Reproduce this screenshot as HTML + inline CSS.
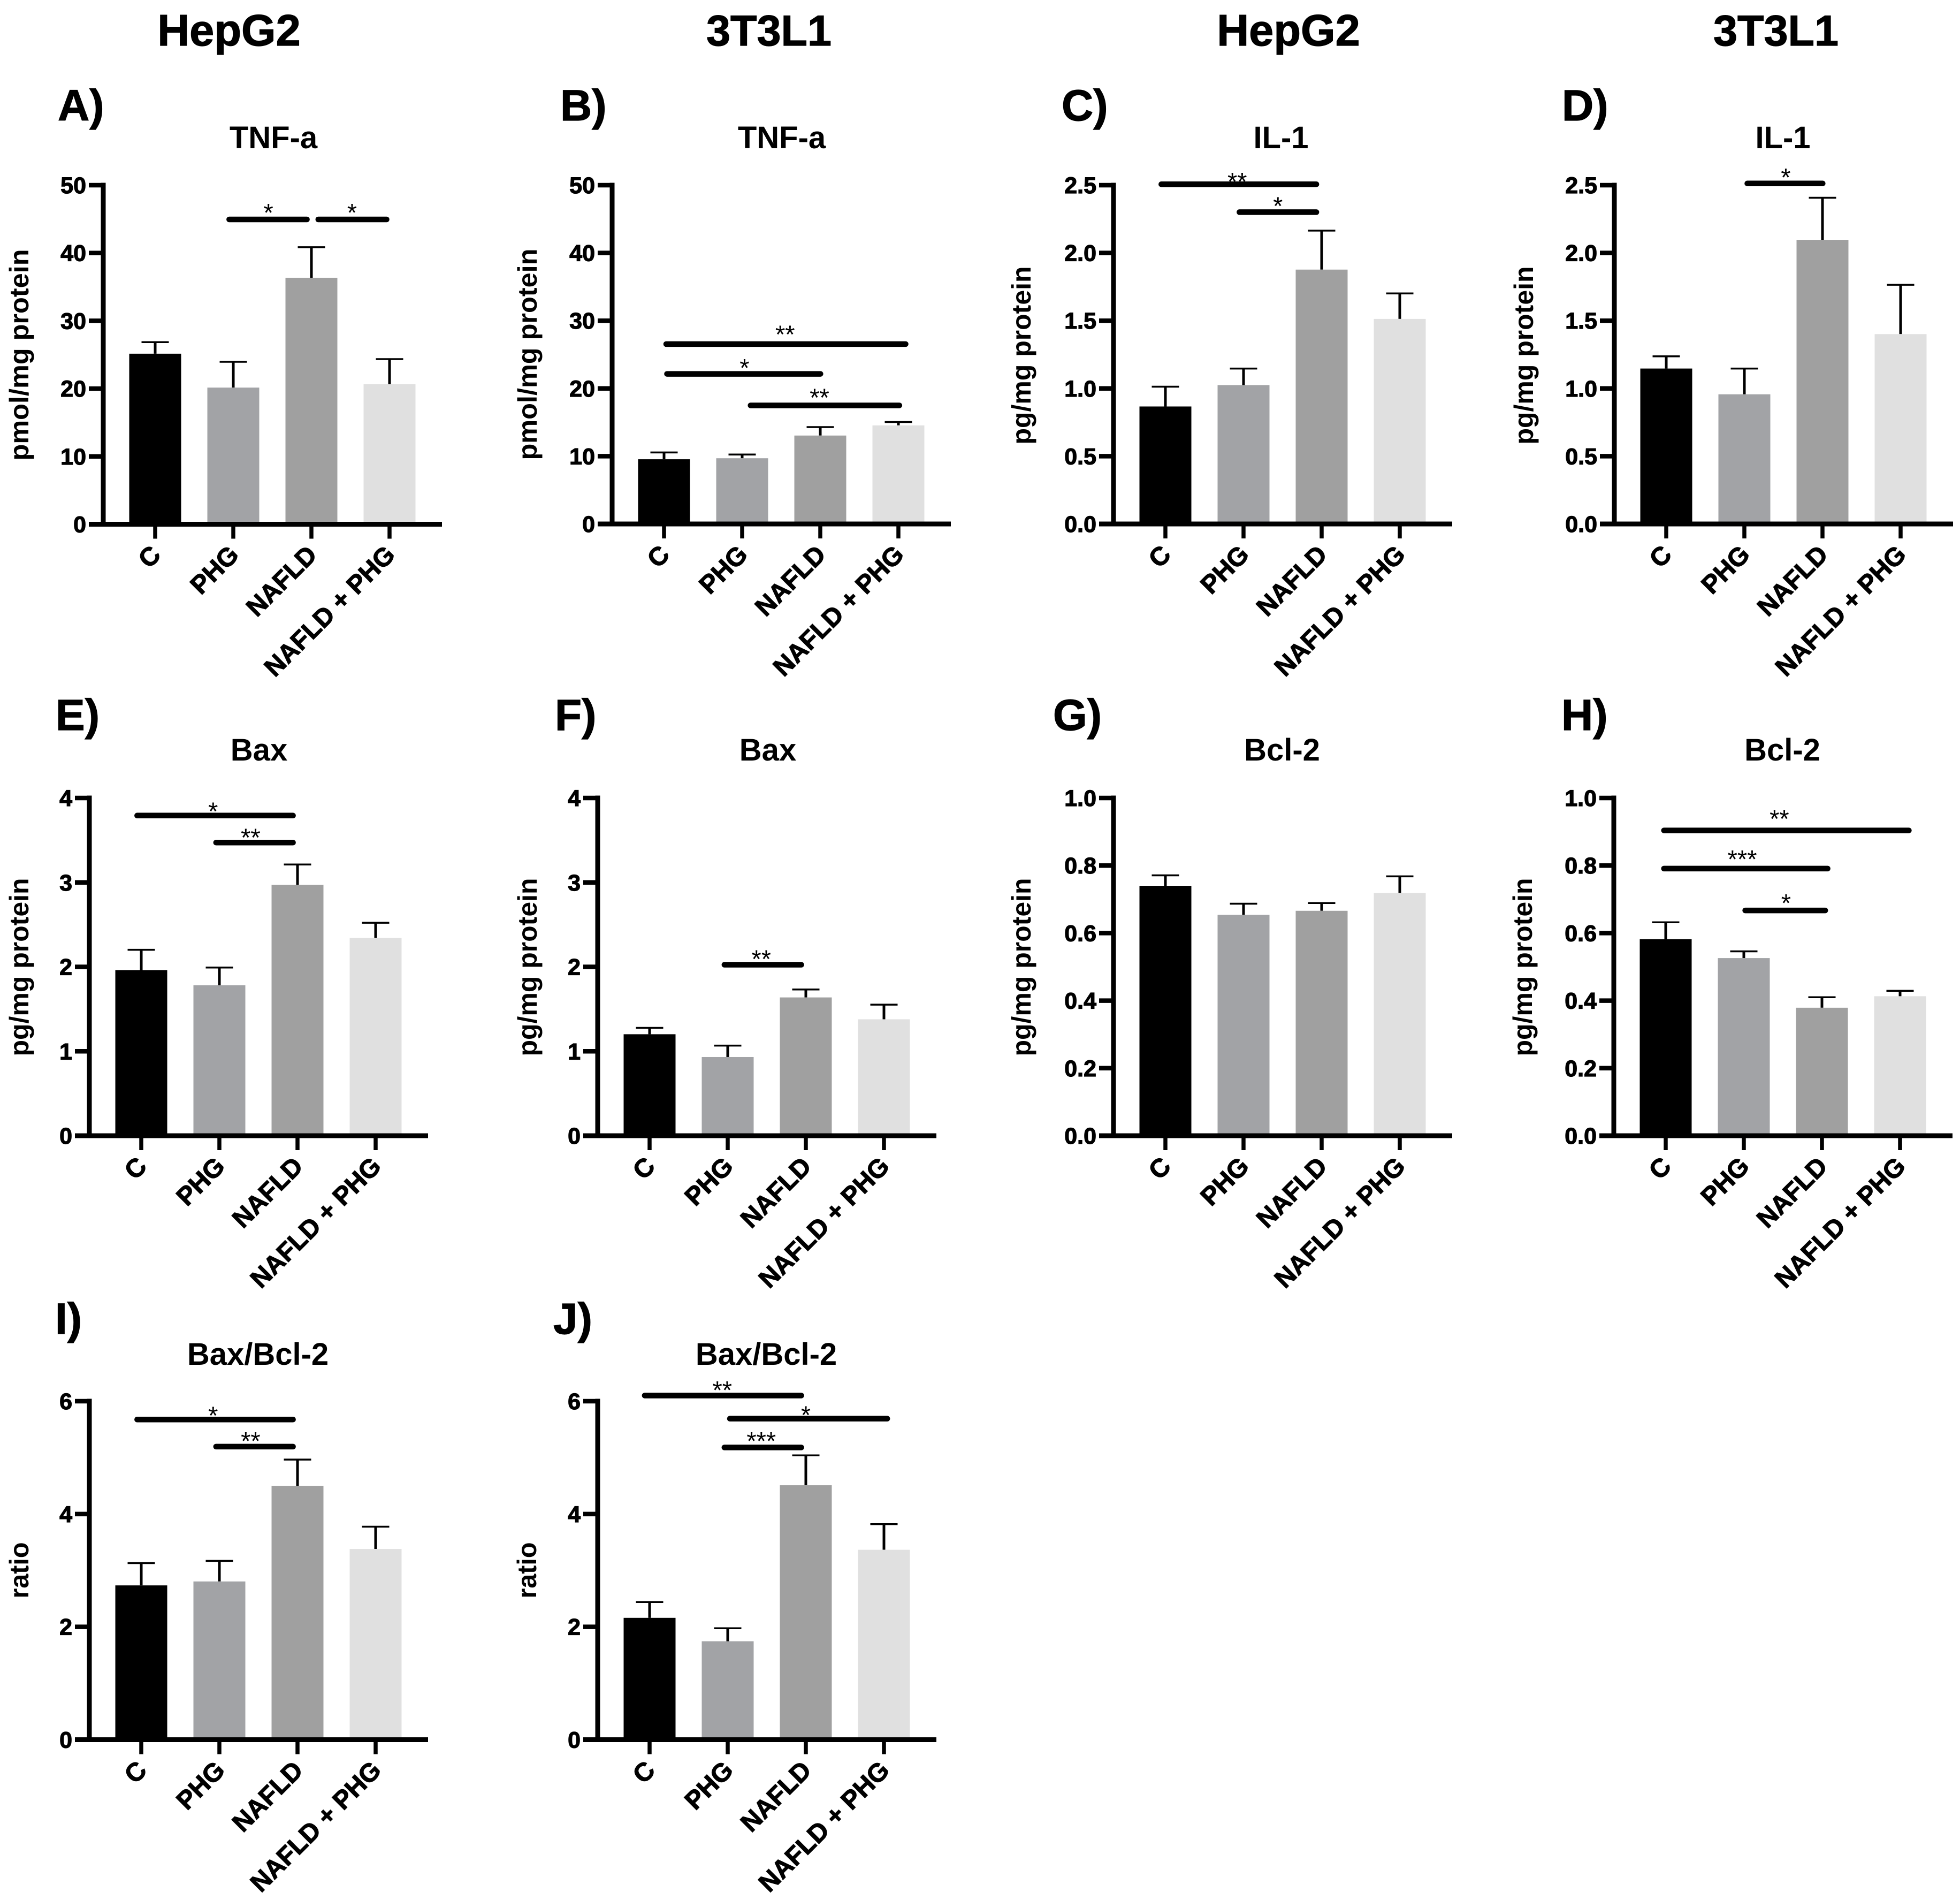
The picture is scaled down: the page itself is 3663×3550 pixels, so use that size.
<!DOCTYPE html>
<html lang="en">
<head>
<meta charset="utf-8">
<title>HepG2 and 3T3L1 cytokine and apoptosis marker bar charts</title>
<style>
html,body{margin:0;padding:0;background:#fff;}
svg{display:block;}
text{font-family:"Liberation Sans",sans-serif;fill:#000;}
.b{font-weight:bold;}
.h{font-weight:bold;stroke:#000;stroke-width:1.2px;}
</style>
</head>
<body>
<svg id="figure" xmlns="http://www.w3.org/2000/svg" width="3663" height="3550" viewBox="0 0 3663 3550">
<rect x="0" y="0" width="3663" height="3550" fill="#fff"/>
<text class="h" x="428" y="85" font-size="83" text-anchor="middle">HepG2</text>
<text class="h" x="1437" y="85" font-size="81" text-anchor="middle">3T3L1</text>
<text class="h" x="2408" y="85" font-size="83" text-anchor="middle">HepG2</text>
<text class="h" x="3319" y="85" font-size="81" text-anchor="middle">3T3L1</text>
</svg>
<script>
const categories = ['C', 'PHG', 'NAFLD', 'NAFLD + PHG'];

const aValues = [25.15, 20.15, 36.35, 20.65];
const aErrors = [26.85, 23.95, 40.85, 24.35];
const aTicks = ['0', '10', '20', '30', '40', '50'];
const aSig = [[0.92, 1.97, 44.95, '*', 1.45, 46.4], [2.06, 2.99, 44.95, '*', 2.52, 46.4]];

const bValues = [9.55, 9.7, 13.05, 14.55];
const bErrors = [10.55, 10.25, 14.3, 15.05];
const bTicks = ['0', '10', '20', '30', '40', '50'];
const bSig = [[0, 3.12, 26.55, '**', 1.55, 28.45], [0.01, 2.03, 22.15, '*', 1.03, 23.5], [1.08, 3.04, 17.5, '**', 1.99, 19.1]];

const cValues = [0.867, 1.025, 1.877, 1.513];
const cErrors = [1.013, 1.147, 2.165, 1.701];
const cTicks = ['0.0', '0.5', '1.0', '1.5', '2.0', '2.5'];
const cSig = [[-0.08, 1.96, 2.507, '**', 0.92, 2.55], [0.92, 1.96, 2.301, '*', 1.44, 2.37]];

const dValues = [1.147, 0.957, 2.097, 1.401];
const dErrors = [1.237, 1.147, 2.407, 1.765];
const dTicks = ['0.0', '0.5', '1.0', '1.5', '2.0', '2.5'];
const dSig = [[1.01, 2.03, 2.513, '*', 1.53, 2.58]];

const eValues = [1.962, 1.782, 2.972, 2.342];
const eErrors = [2.202, 1.992, 3.212, 2.522];
const eTicks = ['0', '1', '2', '3', '4'];
const eSig = [[-0.08, 1.97, 3.792, '*', 0.92, 3.88], [0.93, 1.97, 3.472, '**', 1.40, 3.57]];

const fValues = [1.202, 0.932, 1.638, 1.379];
const fErrors = [1.277, 1.067, 1.732, 1.552];
const fTicks = ['0', '1', '2', '3', '4'];
const fSig = [[0.93, 1.97, 2.025, '**', 1.43, 2.13]];

const gValues = [0.740, 0.654, 0.666, 0.719];
const gErrors = [0.771, 0.687, 0.689, 0.768];
const gTicks = ['0.0', '0.2', '0.4', '0.6', '0.8', '1.0'];
const gSig = [];

const hValues = [0.582, 0.526, 0.379, 0.413];
const hErrors = [0.632, 0.546, 0.410, 0.429];
const hTicks = ['0.0', '0.2', '0.4', '0.6', '0.8', '1.0'];
const hSig = [[-0.05, 3.14, 0.904, '**', 1.455, 0.948], [-0.05, 2.10, 0.791, '***', 0.98, 0.828], [0.99, 2.07, 0.667, '*', 1.54, 0.698]];

const iValues = [2.735, 2.805, 4.5, 3.381];
const iErrors = [3.13, 3.17, 4.965, 3.776];
const iTicks = ['0', '2', '4', '6'];
const iSig = [[-0.08, 1.97, 5.675, '*', 0.92, 5.80], [0.93, 1.97, 5.195, '**', 1.40, 5.35]];

const jValues = [2.16, 1.745, 4.51, 3.366];
const jErrors = [2.44, 1.975, 5.04, 3.82];
const jTicks = ['0', '2', '4', '6'];
const jSig = [[-0.09, 1.97, 6.1, '**', 0.93, 6.25], [1.0, 3.07, 5.69, '*', 2.0, 5.81], [0.93, 1.97, 5.18, '***', 1.43, 5.35]];

const barFills = ['#000000', '#a2a3a6', '#a0a0a0', '#e0e0e0'];
const SVGNS = 'http://www.w3.org/2000/svg';
const svg = document.getElementById('figure');

const panels = [
  {id:'a', letter:'A)', title:'TNF-a', unit:'pmol/mg protein', values:aValues, errors:aErrors, ticks:aTicks, sig:aSig, x0:193,  top:346,  base:979.5, lx:108,  ly:225,  tx:511,  ty:277,  yx:53,   yc:663,  yl:395},
  {id:'b', letter:'B)', title:'TNF-a', unit:'pmol/mg protein', values:bValues, errors:bErrors, ticks:bTicks, sig:bSig, x0:1144, top:346,  base:979,   lx:1047, ly:225,  tx:1461, ty:277,  yx:1003, yc:662,  yl:395},
  {id:'c', letter:'C)', title:'IL-1',  unit:'pg/mg protein',   values:cValues, errors:cErrors, ticks:cTicks, sig:cSig, x0:2081, top:346,  base:979,   lx:1984, ly:225,  tx:2394, ty:277,  yx:1926, yc:664,  yl:333},
  {id:'d', letter:'D)', title:'IL-1',  unit:'pg/mg protein',   values:dValues, errors:dErrors, ticks:dTicks, sig:dSig, x0:3017, top:346,  base:979,   lx:2919, ly:225,  tx:3332, ty:277,  yx:2865, yc:664,  yl:333},
  {id:'e', letter:'E)', title:'Bax',   unit:'pg/mg protein',   values:eValues, errors:eErrors, ticks:eTicks, sig:eSig, x0:167,  top:1491, base:2122,  lx:104,  ly:1364, tx:484,  ty:1421, yx:53,   yc:1807, yl:333},
  {id:'f', letter:'F)', title:'Bax',   unit:'pg/mg protein',   values:fValues, errors:fErrors, ticks:fTicks, sig:fSig, x0:1117, top:1491, base:2122,  lx:1037, ly:1364, tx:1435, ty:1421, yx:1003, yc:1807, yl:333},
  {id:'g', letter:'G)', title:'Bcl-2', unit:'pg/mg protein',   values:gValues, errors:gErrors, ticks:gTicks, sig:gSig, x0:2081, top:1491, base:2122,  lx:1968, ly:1364, tx:2396, ty:1421, yx:1926, yc:1807, yl:333},
  {id:'h', letter:'H)', title:'Bcl-2', unit:'pg/mg protein',   values:hValues, errors:hErrors, ticks:hTicks, sig:hSig, x0:3016, top:1491, base:2122,  lx:2918, ly:1364, tx:3331, ty:1421, yx:2863, yc:1807, yl:333},
  {id:'i', letter:'I)', title:'Bax/Bcl-2', unit:'ratio',       values:iValues, errors:iErrors, ticks:iTicks, sig:iSig, x0:167,  top:2618, base:3250.5, lx:103,  ly:2492, tx:482,  ty:2550, yx:53,   yc:2934, yl:105},
  {id:'j', letter:'J)', title:'Bax/Bcl-2', unit:'ratio',       values:jValues, errors:jErrors, ticks:jTicks, sig:jSig, x0:1117, top:2618, base:3250.5, lx:1034, ly:2492, tx:1432, ty:2550, yx:1002, yc:2934, yl:105}
];

function make(tag, attrs, parent) {
  const el = document.createElementNS(SVGNS, tag);
  for (const k in attrs) el.setAttribute(k, attrs[k]);
  parent.appendChild(el);
  return el;
}

function drawPanel(p) {
  const maxV = Number(p.ticks[p.ticks.length - 1]);
  const yScale = v => p.base - (v / maxV) * (p.base - p.top);
  const xScale = u => p.x0 + 97 + u * 146;

  const g = make('g', {}, svg);
  
  

  const letter = make('text', {x:p.lx, y:p.ly, 'font-size':82, 'class':'h'}, g);
  letter.textContent = p.letter;
  
  

  const title = make('text', {x:p.tx, y:p.ty, 'font-size':58, 'class':'b', 'text-anchor':'middle'}, g);
  title.textContent = p.title;
  
  

  const yTitle = make('text', {x:p.yx, y:p.yc, 'font-size':50, 'class':'b', 'text-anchor':'middle',
    transform:'rotate(-90 ' + p.yx + ' ' + p.yc + ')', textLength:p.yl, lengthAdjust:'spacingAndGlyphs'}, g);
  yTitle.textContent = p.unit;
  
  

  p.errors.forEach((e, i) => {
    const cx = xScale(i);
    const stem = make('line', {x1:cx, x2:cx, y1:yScale(p.values[i]), y2:yScale(e), stroke:'#000', 'stroke-width':5}, g);
    
    
    const cap = make('line', {x1:cx - 25.5, x2:cx + 25.5, y1:yScale(e), y2:yScale(e), stroke:'#000', 'stroke-width':3.5}, g);
    
    
  });

  p.values.forEach((v, i) => {
    const cx = xScale(i);
    const bar = make('rect', {x:cx - 48.5, y:yScale(v), width:97, height:p.base - yScale(v), fill:barFills[i]}, g);
    
    
  });

  const yAxis = make('line', {x1:p.x0, x2:p.x0, y1:p.top - 4.5, y2:p.base + 4.5, stroke:'#000', 'stroke-width':9}, g);
  
  

  const xAxis = make('line', {x1:p.x0 - 27, x2:p.x0 + 633, y1:p.base, y2:p.base, stroke:'#000', 'stroke-width':9}, g);
  
  

  p.ticks.forEach(label => {
    const y = yScale(Number(label));
    const tick = make('line', {x1:p.x0 - 27, x2:p.x0, y1:y, y2:y, stroke:'#000', 'stroke-width':8.5}, g);
    
    
    const text = make('text', {x:p.x0 - 32, y:y + 15, 'font-size':43, 'class':'h', 'text-anchor':'end'}, g);
    text.textContent = label;
    
    
  });

  categories.forEach((label, i) => {
    const cx = xScale(i);
    const tick = make('line', {x1:cx, x2:cx, y1:p.base, y2:p.base + 27, stroke:'#000', 'stroke-width':7.5}, g);
    
    
    const lx = cx + 13, ly = p.base + 60;
    const text = make('text', {x:lx, y:ly, 'font-size':48, 'class':'h', 'text-anchor':'end',
      transform:'rotate(-45 ' + lx + ' ' + ly + ')'}, g);
    text.textContent = label;
    
    
  });

  p.sig.forEach(s => {
    const line = make('line', {x1:xScale(s[0]) + 4, x2:xScale(s[1]) - 4, y1:yScale(s[2]), y2:yScale(s[2]),
      stroke:'#000', 'stroke-width':10.5, 'stroke-linecap':'round'}, g);
    
    
    const star = make('text', {x:xScale(s[4]), y:yScale(s[5]) + 22, 'font-size':47, 'text-anchor':'middle'}, g);
    star.textContent = s[3];
    
    
  });
}

panels.forEach(drawPanel);
</script>
</body>
</html>
